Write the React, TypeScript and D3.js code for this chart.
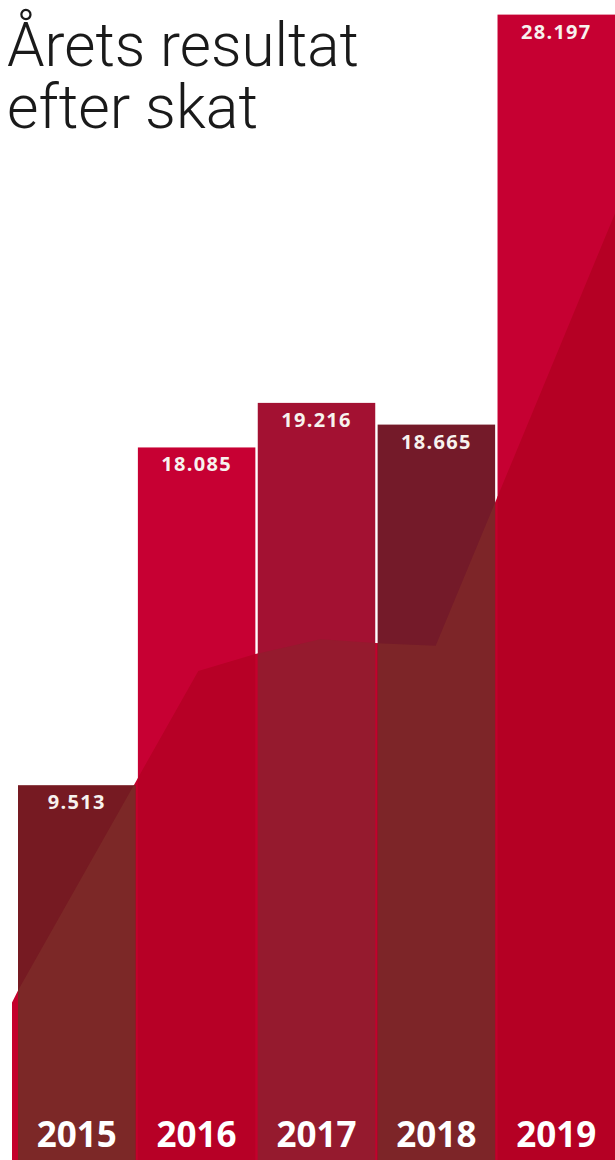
import React from "react";
import * as d3 from "d3";

const years = ["2015", "2016", "2017", "2018", "2019"];
const values = [9.513, 18.085, 19.216, 18.665, 28.197];
const valueLabels = ["9.513", "18.085", "19.216", "18.665", "28.197"];
const barColors = ["#761a22", "#c70033", "#a31132", "#741a29", "#c60032"];
const overlayColors = ["#7c2827", "#b70026", "#951a2e", "#7d2528", "#b50024"];
const titleLines = ["Årets resultat", "efter skat"];
// decorative background area: position in bar-step units, value in chart units
const areaPos = [-0.05, -0.05, 0.0, 0.986, 1.504, 1.98, 2.523, 2.983, 3.484, 4.988, 5.05];
const areaVal = [0, 4.0, 4.3, 9.62, 12.41, 12.84, 13.22, 13.12, 13.05, 23.69, 23.69];

const W = 615;
const H = 1160;

export default function App() {
  const x = d3.scaleBand<string>().domain(years).range([18, 615]).paddingInner(0.02).paddingOuter(0);
  const y = d3.scaleLinear().domain([0, 20, 30]).range([1160, 372, -64]);
  const xLin = d3.scaleLinear().domain([0, 5]).range([18, 617.4]);

  const pts = areaPos.map((p, i) => [p, areaVal[i]] as [number, number]);
  const area = d3
    .area<[number, number]>()
    .x((d) => xLin(d[0]))
    .y0(H)
    .y1((d) => y(d[1]))
    .curve(d3.curveLinear);
  const areaPath = area(pts) || "";
  const bw = x.bandwidth();

  return (
    <svg width={W} height={H} style={{ position: "absolute", left: 0, top: 0, background: "#fff" }}>
      <defs>
        {years.map((yr, i) => (
          <clipPath id={`clip-${yr}`} key={yr}>
            <rect x={x(yr)} y={y(values[i])} width={bw} height={H} />
          </clipPath>
        ))}
      </defs>
      <path d={areaPath} fill="#c4002c" />
      {years.map((yr, i) => (
        <rect key={yr} x={x(yr)} y={y(values[i])} width={bw} height={H - y(values[i])} fill={barColors[i]} />
      ))}
      {years.map((yr, i) => (
        <path key={"o" + yr} d={areaPath} fill={overlayColors[i]} clipPath={`url(#clip-${yr})`} />
      ))}
      {years.map((yr, i) => (
        <text
          key={"v" + yr}
          x={(x(yr) as number) + bw / 2}
          y={y(values[i]) + 24}
          textAnchor="middle"
          fill="#f7f2ee"
          fontFamily="'Open Sans', 'DejaVu Sans', sans-serif"
          fontWeight={700}
          fontSize={20}
          letterSpacing={1.3}
        >
          {valueLabels[i]}
        </text>
      ))}
      {years.map((yr) => (
        <text
          key={"y" + yr}
          x={(x(yr) as number) + bw / 2}
          y={1147}
          textAnchor="middle"
          fill="#ffffff"
          fontFamily="'Open Sans', 'DejaVu Sans', sans-serif"
          fontWeight={700}
          fontSize={35}
        >
          {yr}
        </text>
      ))}
      <text
        x={7}
        y={66}
        fill="#1a1a1a"
        fontFamily="Roboto, 'Open Sans', sans-serif"
        fontWeight={300}
        fontSize={62}
        textLength={352}
        lengthAdjust="spacingAndGlyphs"
      >
        {titleLines[0]}
      </text>
      <text
        x={7}
        y={128}
        fill="#1a1a1a"
        fontFamily="Roboto, 'Open Sans', sans-serif"
        fontWeight={300}
        fontSize={62}
        textLength={251}
        lengthAdjust="spacingAndGlyphs"
      >
        {titleLines[1]}
      </text>
    </svg>
  );
}
